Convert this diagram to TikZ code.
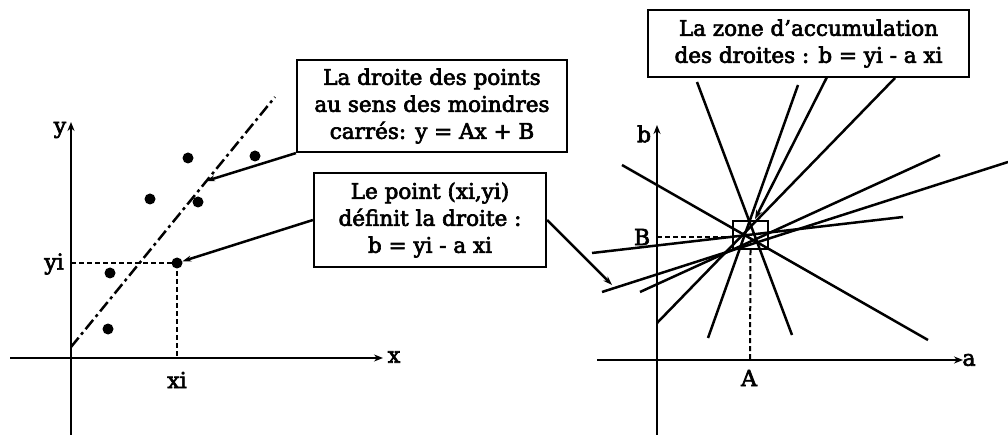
\documentclass[tikz,border=0pt]{standalone}
\usepackage{fontspec}
\setmainfont{DejaVu Serif}[FakeBold=3]
\usetikzlibrary{arrows.meta}
\begin{document}
\begin{tikzpicture}[x=1pt,y=-1pt,
  ln/.style={line width=2.5pt},
  ax/.style={line width=2.2pt,-{Stealth[length=9pt,width=7pt]}},
  arr/.style={line width=2.5pt,-{Stealth[length=9pt,width=6pt]}},
  dsh/.style={line width=2pt,dash pattern=on 5pt off 3pt},
  dashdot/.style={line width=2.5pt,dash pattern=on 12pt off 4pt on 3pt off 4pt},
  boxnode/.style={draw,line width=2.2pt,align=center,inner sep=0pt,font=\fontsize{21.5}{27}\selectfont},
  lbl/.style={font=\fontsize{22}{27}\selectfont,inner sep=0pt},
  dot/.style={circle,fill,inner sep=0pt,minimum size=11pt}
]
\useasboundingbox (0,0) rectangle (1008,435);
% ---------- left plot ----------
\coordinate (ybot) at (71,435);
\coordinate (ytop) at (71,122);
\coordinate (xl) at (10,358);
\coordinate (xr) at (383,358);
\draw[ax] (ybot) -- (ytop);
\draw[ax] (xl) -- (xr);
\node[lbl] (ylab) at (60,130) {y};
\node[lbl] (xlab) at (394,357) {x};
\node[dot] (p1) at (188,158) {};
\node[dot] (p2) at (255,156) {};
\node[dot] (p3) at (150,199) {};
\node[dot] (p4) at (198,202) {};
\node[dot] (p5) at (110,273) {};
\node[dot] (p6) at (108,329) {};
\node[dot] (pi) at (177,263) {};
\coordinate (yiax) at (71,263);
\coordinate (xiax) at (177,358);
\draw[dsh] (yiax) -- (pi.center);
\draw[dsh] (pi.center) -- (xiax);
\node[lbl] (yilab) at (54,264) {yi};
\node[lbl] (xilab) at (177,380) {xi};
\coordinate (d0) at (71,347);
\coordinate (d1) at (275,97);
\draw[dashdot] (d0) -- (d1);
\coordinate (donline) at (206,181);
\node[boxnode,minimum width=270pt,minimum height=92pt] (b1) at (432,106)
  {La droite des points\\au sens des moindres\\carrés: y = Ax + B};
\draw[arr] (b1.south west) -- (donline);
\node[boxnode,minimum width=232pt,minimum height=94pt] (b2) at (430,220)
  {Le point (xi,yi)\\définit la droite :\\b = yi - a xi};
\draw[arr] (b2.west) -- (pi);
\coordinate (tip) at (612,285);
\draw[arr] (b2.east) -- (tip);
% ---------- right plot ----------
\coordinate (bbot) at (657,435);
\coordinate (btop) at (657,125);
\coordinate (al) at (597,360);
\coordinate (ar) at (963,360);
\draw[ax] (bbot) -- (btop);
\draw[ax] (al) -- (ar);
\node[lbl] (blab) at (644,134) {b};
\node[lbl] (alab) at (969,360) {a};
\node[lbl] (Blab) at (642,237) {B};
\node[lbl] (Alab) at (749,378) {A};
\node[draw,line width=2.2pt,minimum width=35pt,minimum height=28pt,inner sep=0pt] (sq) at (750.5,235) {};
\coordinate (Bax) at (657,237);
\coordinate (Aax) at (750,360);
\draw[dsh] (Bax) -- (sq.west |- Bax);
\draw[dsh] (sq.south) -- (Aax);
\coordinate (l1a) at (697,82);   \coordinate (l1b) at (792,335);
\coordinate (l2a) at (798,85);   \coordinate (l2b) at (708,338);
\coordinate (l3a) at (895,78);   \coordinate (l3b) at (657,323);
\coordinate (l4a) at (622,165);  \coordinate (l4b) at (928,340);
\coordinate (l5a) at (940,155);  \coordinate (l5b) at (640,292);
\coordinate (l6a) at (1008,162); \coordinate (l6b) at (602,292);
\coordinate (l7a) at (903,217);  \coordinate (l7b) at (592,253);
\foreach \i in {1,...,7} { \draw[ln] (l\i a) -- (l\i b); }
\node[boxnode,minimum width=321pt,minimum height=67pt] (b3) at (808.5,43.5)
  {La zone d’accumulation\\des droites : b = yi - a xi};
\coordinate (b3a) at (827,77);
\coordinate (sqtop) at (755,219);
\draw[arr] (b3a) -- (sqtop);
\end{tikzpicture}
\end{document}
